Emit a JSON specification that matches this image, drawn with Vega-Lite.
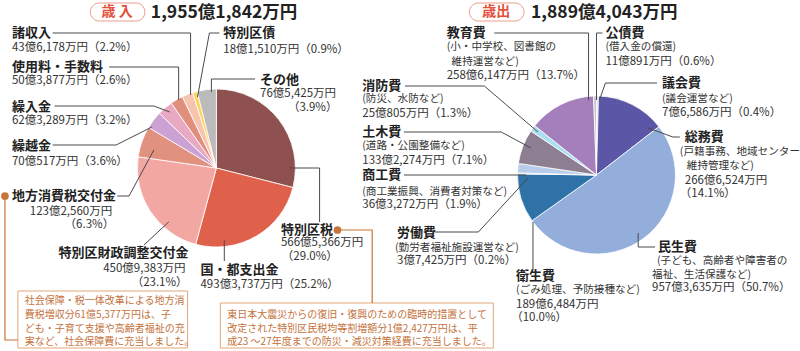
{
  "$schema": "https://vega.github.io/schema/vega-lite/v6.json",
  "width": 800,
  "height": 351,
  "autosize": {"type": "fit", "contains": "padding"},
  "padding": 0,
  "background": "white",
  "config": {"view": {"stroke": null}, "font": "Noto Sans CJK JP"},
  "datasets": {
    "rev": [
      {"item": "特別区税", "amount": 5665366, "ord": 1},
      {"item": "国・都支出金", "amount": 4933737, "ord": 2},
      {"item": "特別区財政調整交付金", "amount": 4509383, "ord": 3},
      {"item": "地方消費税交付金", "amount": 1232560, "ord": 4},
      {"item": "繰越金", "amount": 700517, "ord": 5},
      {"item": "繰入金", "amount": 623289, "ord": 6},
      {"item": "使用料・手数料", "amount": 503877, "ord": 7},
      {"item": "諸収入", "amount": 436178, "ord": 8},
      {"item": "特別区債", "amount": 181510, "ord": 9},
      {"item": "その他", "amount": 765425, "ord": 10}
    ],
    "exp": [
      {"item": "議会費", "amount": 76586, "ord": 1},
      {"item": "総務費", "amount": 2666524, "ord": 2},
      {"item": "民生費", "amount": 9573635, "ord": 3},
      {"item": "衛生費", "amount": 1896484, "ord": 4},
      {"item": "労働費", "amount": 37425, "ord": 5},
      {"item": "商工費", "amount": 363272, "ord": 6},
      {"item": "土木費", "amount": 1332274, "ord": 7},
      {"item": "消防費", "amount": 250805, "ord": 8},
      {"item": "教育費", "amount": 2586147, "ord": 9},
      {"item": "公債費", "amount": 110891, "ord": 10}
    ],
    "leaders": [
      {"id": "a1", "s": 1, "x": 53, "y": 33}, {"id": "a1", "s": 2, "x": 192, "y": 33}, {"id": "a1", "s": 3, "x": 192, "y": 95},
      {"id": "a2", "s": 1, "x": 110, "y": 67}, {"id": "a2", "s": 2, "x": 180, "y": 67}, {"id": "a2", "s": 3, "x": 180, "y": 100},
      {"id": "a3", "s": 1, "x": 55, "y": 106}, {"id": "a3", "s": 2, "x": 155, "y": 106}, {"id": "a3", "s": 3, "x": 171, "y": 112},
      {"id": "a4", "s": 1, "x": 53, "y": 145}, {"id": "a4", "s": 2, "x": 117, "y": 145}, {"id": "a4", "s": 3, "x": 153, "y": 127},
      {"id": "a5", "s": 1, "x": 118, "y": 196}, {"id": "a5", "s": 2, "x": 130, "y": 196}, {"id": "a5", "s": 3, "x": 155, "y": 150},
      {"id": "a6", "s": 1, "x": 145, "y": 245}, {"id": "a6", "s": 2, "x": 170, "y": 222},
      {"id": "a7", "s": 1, "x": 226, "y": 261}, {"id": "a7", "s": 2, "x": 226, "y": 240},
      {"id": "a8", "s": 1, "x": 292, "y": 168}, {"id": "a8", "s": 2, "x": 322, "y": 168}, {"id": "a8", "s": 3, "x": 322, "y": 222},
      {"id": "a9", "s": 1, "x": 221, "y": 33}, {"id": "a9", "s": 2, "x": 211, "y": 33}, {"id": "a9", "s": 3, "x": 199, "y": 97},
      {"id": "a10", "s": 1, "x": 257, "y": 79}, {"id": "a10", "s": 2, "x": 213, "y": 79}, {"id": "a10", "s": 3, "x": 213, "y": 92},
      {"id": "b1", "s": 1, "x": 498, "y": 33}, {"id": "b1", "s": 2, "x": 593, "y": 33}, {"id": "b1", "s": 3, "x": 593, "y": 100},
      {"id": "b2", "s": 1, "x": 607, "y": 33}, {"id": "b2", "s": 2, "x": 601, "y": 33}, {"id": "b2", "s": 3, "x": 601, "y": 100},
      {"id": "b3", "s": 1, "x": 662, "y": 83}, {"id": "b3", "s": 2, "x": 610, "y": 83}, {"id": "b3", "s": 3, "x": 604, "y": 100},
      {"id": "b4", "s": 1, "x": 685, "y": 137}, {"id": "b4", "s": 2, "x": 678, "y": 137}, {"id": "b4", "s": 3, "x": 653, "y": 128},
      {"id": "b5", "s": 1, "x": 408, "y": 86}, {"id": "b5", "s": 2, "x": 488, "y": 86}, {"id": "b5", "s": 3, "x": 542, "y": 132},
      {"id": "b6", "s": 1, "x": 407, "y": 132}, {"id": "b6", "s": 2, "x": 505, "y": 132}, {"id": "b6", "s": 3, "x": 535, "y": 148},
      {"id": "b7", "s": 1, "x": 407, "y": 175}, {"id": "b7", "s": 2, "x": 530, "y": 175},
      {"id": "b8", "s": 1, "x": 438, "y": 232}, {"id": "b8", "s": 2, "x": 482, "y": 232}, {"id": "b8", "s": 3, "x": 532, "y": 178},
      {"id": "b9", "s": 1, "x": 537, "y": 270}, {"id": "b9", "s": 2, "x": 537, "y": 222},
      {"id": "b10", "s": 1, "x": 660, "y": 247}, {"id": "b10", "s": 2, "x": 643, "y": 247}, {"id": "b10", "s": 3, "x": 643, "y": 233}
    ],
    "notes": [
      {"id": "n1", "s": 1, "x": 5, "y": 196}, {"id": "n1", "s": 2, "x": 5, "y": 340}, {"id": "n1", "s": 3, "x": 18, "y": 340},
      {"id": "n2", "s": 1, "x": 340, "y": 230}, {"id": "n2", "s": 2, "x": 375, "y": 230}, {"id": "n2", "s": 3, "x": 375, "y": 303}
    ],
    "bullets": [{"x": 5, "y": 196}, {"x": 340, "y": 230}],
    "boxes": [
      {"x": 18, "x2": 189, "y": 291, "y2": 348},
      {"x": 222, "x2": 497, "y": 303, "y2": 348}
    ],
    "hdrBoxes": [
      {"x": 91, "x2": 146, "y": 3, "y2": 21},
      {"x": 473, "x2": 528, "y": 3, "y2": 21}
    ],
    "hdrText": [
      {"t": "歳 入", "x": 118, "y": 12},
      {"t": "歳出", "x": 500, "y": 12}
    ],
    "totals": [
      {"t": "1,955億1,842万円", "x": 152, "y": 13},
      {"t": "1,889億4,043万円", "x": 535, "y": 13}
    ],
    "titles": [
      {"t": "諸収入", "x": 12, "y": 33},
      {"t": "使用料・手数料", "x": 12, "y": 67},
      {"t": "繰入金", "x": 12, "y": 107},
      {"t": "繰越金", "x": 12, "y": 146},
      {"t": "地方消費税交付金", "x": 12, "y": 196},
      {"t": "特別区財政調整交付金", "x": 59, "y": 253},
      {"t": "国・都支出金", "x": 202, "y": 270},
      {"t": "特別区税", "x": 283, "y": 230},
      {"t": "特別区債", "x": 225, "y": 33},
      {"t": "その他", "x": 262, "y": 80},
      {"t": "教育費", "x": 450, "y": 33},
      {"t": "公債費", "x": 610, "y": 33},
      {"t": "議会費", "x": 667, "y": 83},
      {"t": "総務費", "x": 690, "y": 137},
      {"t": "消防費", "x": 365, "y": 86},
      {"t": "土木費", "x": 365, "y": 132},
      {"t": "商工費", "x": 365, "y": 175},
      {"t": "労働費", "x": 400, "y": 233},
      {"t": "衛生費", "x": 520, "y": 276},
      {"t": "民生費", "x": 663, "y": 247}
    ],
    "desc": [
      {"t": "(小・中学校、図書館の", "x": 450, "y": 47},
      {"t": "維持運営など)", "x": 455, "y": 62},
      {"t": "(借入金の償還)", "x": 610, "y": 47},
      {"t": "(議会運営など)", "x": 667, "y": 99},
      {"t": "(戸籍事務、地域センター", "x": 685, "y": 152},
      {"t": "維持管理など)", "x": 692, "y": 166},
      {"t": "(防災、水防など)", "x": 365, "y": 99},
      {"t": "(道路・公園整備など)", "x": 365, "y": 146},
      {"t": "(商工業振興、消費者対策など)", "x": 365, "y": 192},
      {"t": "(勤労者福祉施設運営など)", "x": 398, "y": 248},
      {"t": "(ごみ処理、予防接種など)", "x": 520, "y": 290},
      {"t": "(子ども、高齢者や障害者の", "x": 662, "y": 261},
      {"t": "福祉、生活保護など)", "x": 657, "y": 275}
    ],
    "detL": [
      {"t": "43億6,178万円（2.2%）", "x": 12, "y": 48},
      {"t": "50億3,877万円（2.6%）", "x": 12, "y": 81},
      {"t": "62億3,289万円（3.2%）", "x": 12, "y": 121},
      {"t": "70億517万円（3.6%）", "x": 12, "y": 162},
      {"t": "493億3,737万円（25.2%）", "x": 202, "y": 285},
      {"t": "566億5,366万円", "x": 283, "y": 243},
      {"t": "（29.0%）", "x": 284, "y": 257},
      {"t": "18億1,510万円（0.9%）", "x": 225, "y": 50},
      {"t": "76億5,425万円", "x": 262, "y": 94},
      {"t": "258億6,147万円（13.7%）", "x": 450, "y": 76},
      {"t": "11億891万円（0.6%）", "x": 610, "y": 62},
      {"t": "7億6,586万円（0.4%）", "x": 667, "y": 113},
      {"t": "266億6,524万円", "x": 690, "y": 181},
      {"t": "（14.1%）", "x": 685, "y": 194},
      {"t": "25億805万円（1.3%）", "x": 365, "y": 114},
      {"t": "133億2,274万円（7.1%）", "x": 365, "y": 161},
      {"t": "36億3,272万円（1.9%）", "x": 365, "y": 205},
      {"t": "3億7,425万円（0.2%）", "x": 400, "y": 261},
      {"t": "189億6,484万円", "x": 520, "y": 305},
      {"t": "（10.0%）", "x": 515, "y": 318},
      {"t": "957億3,635万円（50.7%）", "x": 657, "y": 288}
    ],
    "detR": [
      {"t": "123億2,560万円", "x": 113, "y": 212},
      {"t": "（6.3%）", "x": 115, "y": 225},
      {"t": "450億9,383万円", "x": 187, "y": 269},
      {"t": "（23.1%）", "x": 189, "y": 283},
      {"t": "（3.9%）", "x": 340, "y": 108}
    ],
    "noteText": [
      {"t": "社会保障・税一体改革による地方消", "x": 25, "y": 301},
      {"t": "費税増収分61億5,377万円は、子", "x": 25, "y": 315},
      {"t": "ども・子育て支援や高齢者福祉の充", "x": 25, "y": 329},
      {"t": "実など、社会保障費に充当しました。", "x": 25, "y": 342},
      {"t": "東日本大震災からの復旧・復興のための臨時的措置として", "x": 229, "y": 315},
      {"t": "改定された特別区民税均等割増額分1億2,427万円は、平", "x": 229, "y": 329},
      {"t": "成23 ～27年度までの防災・減災対策経費に充当しました。", "x": 229, "y": 342}
    ]
  },
  "layer": [
    {
      "data": {"name": "boxes"},
      "mark": {"type": "rect", "fill": "white", "stroke": "#E3A77A", "strokeWidth": 1},
      "encoding": {
        "x": {"field": "x", "type": "quantitative", "scale": {"domain": [0, 800], "nice": false, "zero": false}, "axis": null},
        "x2": {"field": "x2"},
        "y": {"field": "y", "type": "quantitative", "scale": {"domain": [0, 351], "nice": false, "zero": false, "reverse": true}, "axis": null},
        "y2": {"field": "y2"}
      }
    },
    {
      "data": {"name": "hdrBoxes"},
      "mark": {"type": "rect", "fill": "white", "stroke": "#EE9C8C", "strokeWidth": 1, "cornerRadius": 9},
      "encoding": {
        "x": {"field": "x", "type": "quantitative", "scale": {"domain": [0, 800], "nice": false, "zero": false}, "axis": null},
        "x2": {"field": "x2"},
        "y": {"field": "y", "type": "quantitative", "scale": {"domain": [0, 351], "nice": false, "zero": false, "reverse": true}, "axis": null},
        "y2": {"field": "y2"}
      }
    },
    {
      "data": {"name": "rev"},
      "mark": {"type": "arc", "outerRadius": 79, "stroke": "white", "strokeWidth": 0.8},
      "encoding": {
        "x": {"datum": 218, "type": "quantitative", "scale": {"domain": [0, 800], "nice": false, "zero": false}, "axis": null},
        "y": {"datum": 168, "type": "quantitative", "scale": {"domain": [0, 351], "nice": false, "zero": false, "reverse": true}, "axis": null},
        "theta": {"field": "amount", "type": "quantitative", "stack": true},
        "order": {"field": "ord", "type": "quantitative"},
        "color": {
          "field": "item", "type": "nominal", "legend": null,
          "scale": {
            "domain": ["特別区税", "国・都支出金", "特別区財政調整交付金", "地方消費税交付金", "繰越金", "繰入金", "使用料・手数料", "諸収入", "特別区債", "その他"],
            "range": ["#8E5150", "#DF604B", "#F3A7A3", "#E0927F", "#CBA2D3", "#EAA9C2", "#DF8F7C", "#F6C4AF", "#FFD45E", "#BBBBBB"]
          }
        }
      }
    },
    {
      "data": {"name": "exp"},
      "mark": {"type": "arc", "outerRadius": 79, "stroke": "white", "strokeWidth": 0.8},
      "encoding": {
        "x": {"datum": 601, "type": "quantitative", "scale": {"domain": [0, 800], "nice": false, "zero": false}, "axis": null},
        "y": {"datum": 175, "type": "quantitative", "scale": {"domain": [0, 351], "nice": false, "zero": false, "reverse": true}, "axis": null},
        "theta": {"field": "amount", "type": "quantitative", "stack": true},
        "order": {"field": "ord", "type": "quantitative"},
        "color": {
          "field": "item", "type": "nominal", "legend": null,
          "scale": {
            "domain": ["議会費", "総務費", "民生費", "衛生費", "労働費", "商工費", "土木費", "消防費", "教育費", "公債費"],
            "range": ["#DCDCE6", "#5C56A6", "#94AEDC", "#2F72A8", "#9CC0E4", "#B9CDEB", "#8D7F91", "#A9DFF1", "#A47FBB", "#C6C6C6"]
          }
        }
      }
    },
    {
      "data": {"name": "leaders"},
      "mark": {"type": "line", "color": "#4A4A4A", "strokeWidth": 1},
      "encoding": {
        "x": {"field": "x", "type": "quantitative", "scale": {"domain": [0, 800], "nice": false, "zero": false}, "axis": null},
        "y": {"field": "y", "type": "quantitative", "scale": {"domain": [0, 351], "nice": false, "zero": false, "reverse": true}, "axis": null},
        "detail": {"field": "id"},
        "order": {"field": "s", "type": "quantitative"}
      }
    },
    {
      "data": {"name": "notes"},
      "mark": {"type": "line", "color": "#C9743A", "strokeWidth": 1.2},
      "encoding": {
        "x": {"field": "x", "type": "quantitative", "scale": {"domain": [0, 800], "nice": false, "zero": false}, "axis": null},
        "y": {"field": "y", "type": "quantitative", "scale": {"domain": [0, 351], "nice": false, "zero": false, "reverse": true}, "axis": null},
        "detail": {"field": "id"},
        "order": {"field": "s", "type": "quantitative"}
      }
    },
    {
      "data": {"name": "bullets"},
      "mark": {"type": "circle", "color": "#C9743A", "size": 60, "opacity": 1},
      "encoding": {
        "x": {"field": "x", "type": "quantitative", "scale": {"domain": [0, 800], "nice": false, "zero": false}, "axis": null},
        "y": {"field": "y", "type": "quantitative", "scale": {"domain": [0, 351], "nice": false, "zero": false, "reverse": true}, "axis": null}
      }
    },
    {
      "data": {"name": "hdrText"},
      "mark": {"type": "text", "align": "center", "baseline": "middle", "fontSize": 14, "fontWeight": "bold", "color": "#E2503C"},
      "encoding": {
        "x": {"field": "x", "type": "quantitative", "scale": {"domain": [0, 800], "nice": false, "zero": false}, "axis": null},
        "y": {"field": "y", "type": "quantitative", "scale": {"domain": [0, 351], "nice": false, "zero": false, "reverse": true}, "axis": null},
        "text": {"field": "t"}
      }
    },
    {
      "data": {"name": "totals"},
      "mark": {"type": "text", "align": "left", "baseline": "middle", "fontSize": 17.5, "fontWeight": "bold", "color": "#222222"},
      "encoding": {
        "x": {"field": "x", "type": "quantitative", "scale": {"domain": [0, 800], "nice": false, "zero": false}, "axis": null},
        "y": {"field": "y", "type": "quantitative", "scale": {"domain": [0, 351], "nice": false, "zero": false, "reverse": true}, "axis": null},
        "text": {"field": "t"}
      }
    },
    {
      "data": {"name": "titles"},
      "mark": {"type": "text", "align": "left", "baseline": "middle", "fontSize": 13, "fontWeight": "bold", "color": "#222222"},
      "encoding": {
        "x": {"field": "x", "type": "quantitative", "scale": {"domain": [0, 800], "nice": false, "zero": false}, "axis": null},
        "y": {"field": "y", "type": "quantitative", "scale": {"domain": [0, 351], "nice": false, "zero": false, "reverse": true}, "axis": null},
        "text": {"field": "t"}
      }
    },
    {
      "data": {"name": "desc"},
      "mark": {"type": "text", "align": "left", "baseline": "middle", "fontSize": 10.6, "color": "#333333"},
      "encoding": {
        "x": {"field": "x", "type": "quantitative", "scale": {"domain": [0, 800], "nice": false, "zero": false}, "axis": null},
        "y": {"field": "y", "type": "quantitative", "scale": {"domain": [0, 351], "nice": false, "zero": false, "reverse": true}, "axis": null},
        "text": {"field": "t"}
      }
    },
    {
      "data": {"name": "detL"},
      "mark": {"type": "text", "align": "left", "baseline": "middle", "fontSize": 11.5, "color": "#333333"},
      "encoding": {
        "x": {"field": "x", "type": "quantitative", "scale": {"domain": [0, 800], "nice": false, "zero": false}, "axis": null},
        "y": {"field": "y", "type": "quantitative", "scale": {"domain": [0, 351], "nice": false, "zero": false, "reverse": true}, "axis": null},
        "text": {"field": "t"}
      }
    },
    {
      "data": {"name": "detR"},
      "mark": {"type": "text", "align": "right", "baseline": "middle", "fontSize": 11.5, "color": "#333333"},
      "encoding": {
        "x": {"field": "x", "type": "quantitative", "scale": {"domain": [0, 800], "nice": false, "zero": false}, "axis": null},
        "y": {"field": "y", "type": "quantitative", "scale": {"domain": [0, 351], "nice": false, "zero": false, "reverse": true}, "axis": null},
        "text": {"field": "t"}
      }
    },
    {
      "data": {"name": "noteText"},
      "mark": {"type": "text", "align": "left", "baseline": "middle", "fontSize": 10, "color": "#C4723C"},
      "encoding": {
        "x": {"field": "x", "type": "quantitative", "scale": {"domain": [0, 800], "nice": false, "zero": false}, "axis": null},
        "y": {"field": "y", "type": "quantitative", "scale": {"domain": [0, 351], "nice": false, "zero": false, "reverse": true}, "axis": null},
        "text": {"field": "t"}
      }
    }
  ],
  "resolve": {"scale": {"theta": "independent", "color": "independent"}}
}
